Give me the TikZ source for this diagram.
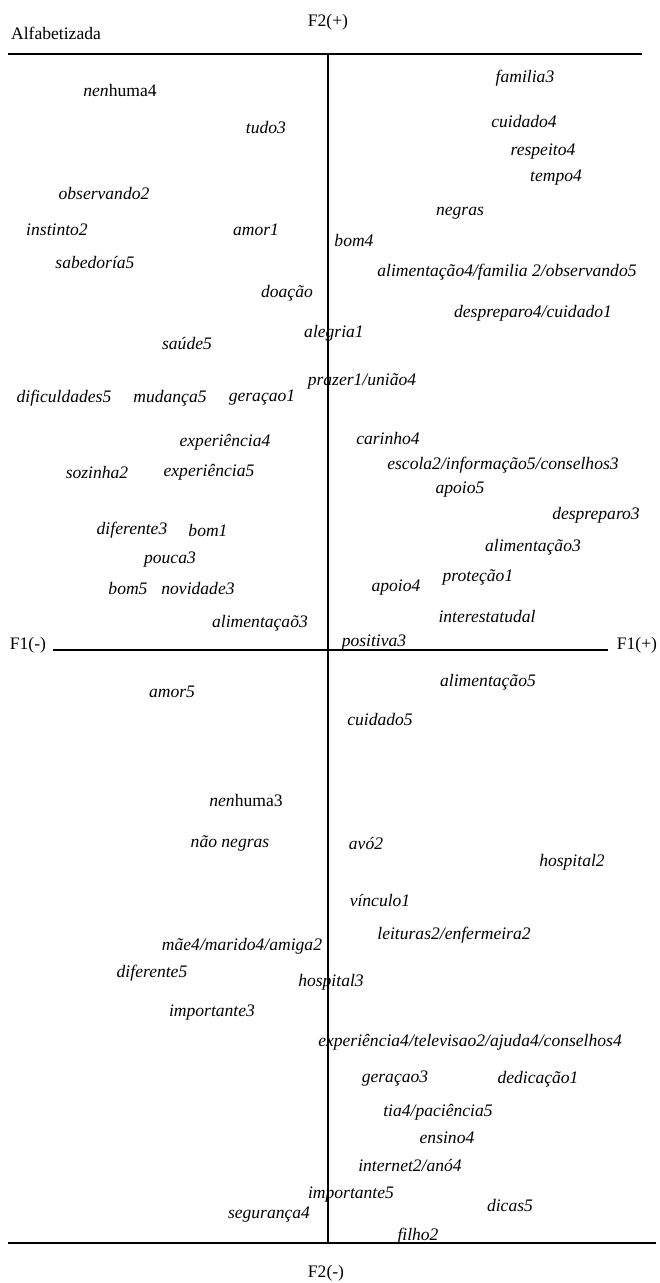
\documentclass[tikz,border=0pt]{standalone}
\usepackage{fontspec}
\setmainfont{Liberation Serif}
\begin{document}
\begin{tikzpicture}[x=0.02cm, y=-0.02cm, draw=black,
  word/.style={font=\fontsize{10}{12}\selectfont\itshape, inner sep=0pt},
  axlabel/.style={font=\fontsize{10}{12}\selectfont, inner sep=0pt}]
\useasboundingbox (0,0) rectangle (659,1283);

% axes
\coordinate (tl) at (8,54);
\coordinate (tr) at (642,54);
\coordinate (bl) at (8,1243);
\coordinate (br) at (656,1243);
\coordinate (vt) at (328,54);
\coordinate (vb) at (328,1243);
\coordinate (hl) at (53,650);
\coordinate (hr) at (608,650);
\draw [line width=1.1pt] (tl) -- (tr);
\draw [line width=1.1pt] (bl) -- (br);
\draw [line width=1.1pt] (hl) -- (hr);
\draw [thick] (vt) -- (vb);

\node[axlabel] (title) at (56,33) {Alfabetizada};
\node[axlabel] (f2p) at (328,22) {F2(+)};
\node[axlabel] (f1m) at (28,645) {F1(-)};
\node[axlabel] (f1p) at (637,645) {F1(+)};
\node[axlabel] (f2m) at (326,1273) {F2(-)};

% quadrant F1(-) F2(+)
\node[word] (nenhuma4) at (120,90) {nen\upshape huma4};
\node[word] (tudo3) at (266,128) {tudo3};
\node[word] (observando2) at (104,193) {observando2};
\node[word] (instinto2) at (57,230) {instinto2};
\node[word] (amor1) at (256,230) {amor1};
\node[word] (sabedoria5) at (95,262) {sabedoría5};
\node[word] (doacao) at (287,293) {doação};
\node[word] (saude5) at (187,343) {saúde5};
\node[word] (dific5) at (64,398) {dificuldades5};
\node[word] (mudanca5) at (170,398) {mudança5};
\node[word] (geracao1) at (262,398) {geraçao1};
\node[word] (exper4) at (225,442) {experiência4};
\node[word] (sozinha2) at (97,472) {sozinha2};
\node[word] (exper5) at (209,472) {experiência5};
\node[word] (dif3) at (132,530) {diferente3};
\node[word] (bom1) at (208,530) {bom1};
\node[word] (pouca3) at (170,560) {pouca3};
\node[word] (bom5) at (128,588) {bom5};
\node[word] (novid3) at (198,588) {novidade3};
\node[word] (alim3b) at (260,623) {alimentaçaõ3};

% quadrant F1(+) F2(+)
\node[word] (familia3) at (525,78) {familia3};
\node[word] (cuidado4) at (524,122) {cuidado4};
\node[word] (respeito4) at (543,152) {respeito4};
\node[word] (tempo4) at (556,178) {tempo4};
\node[word] (negras) at (460,213) {negras};
\node[word] (bom4) at (354,240) {bom4};
\node[word] (alim4) at (507,272) {alimentação4/familia 2/observando5};
\node[word] (desp4) at (533,313) {despreparo4/cuidado1};
\node[word] (alegria1) at (334,333) {alegria1};
\node[word] (prazer1) at (362,381) {prazer1/união4};
\node[word] (carinho4) at (388,438) {carinho4};
\node[word] (escola2) at (503,465) {escola2/informação5/conselhos3};
\node[word] (apoio5) at (460,490) {apoio5};
\node[word] (desp3) at (596,515) {despreparo3};
\node[word] (alim3) at (533,547) {alimentação3};
\node[word] (protecao1) at (478,577) {proteção1};
\node[word] (apoio4) at (396,588) {apoio4};
\node[word] (interest) at (487,617) {interestatudal};
\node[word] (positiva3) at (374,643) {positiva3};

% quadrant F1(-) F2(-)
\node[word] (amor5) at (172,692) {amor5};
\node[word] (nenhuma3) at (246,800) {nen\upshape huma3};
\node[word] (naonegras) at (230,843) {não negras};
\node[word] (mae4) at (242,946) {mãe4/marido4/amiga2};
\node[word] (dif5) at (152,973) {diferente5};
\node[word] (hospital3) at (331,982) {hospital3};
\node[word] (import3) at (212,1013) {importante3};
\node[word] (import5) at (351,1195) {importante5};
\node[word] (seguranca4) at (269,1215) {segurança4};

% quadrant F1(+) F2(-)
\node[word] (alim5) at (488,682) {alimentação5};
\node[word] (cuidado5) at (380,720) {cuidado5};
\node[word] (avo2) at (366,843) {avó2};
\node[word] (hospital2) at (572,862) {hospital2};
\node[word] (vinculo1) at (380,900) {vínculo1};
\node[word] (leituras2) at (454,935) {leituras2/enfermeira2};
\node[word] (exper4tele2) at (470,1042) {experiência4/televisao2/ajuda4/conselhos4};
\node[word] (geracao3) at (395,1079) {geraçao3};
\node[word] (dedic1) at (538,1079) {dedicação1};
\node[word] (tia4) at (438,1112) {tia4/paciência5};
\node[word] (ensino4) at (447,1138) {ensino4};
\node[word] (internet2) at (410,1165) {internet2/anó4};
\node[word] (dicas5) at (510,1205) {dicas5};
\node[word] (filho2) at (418,1236) {filho2};
\end{tikzpicture}
\end{document}
